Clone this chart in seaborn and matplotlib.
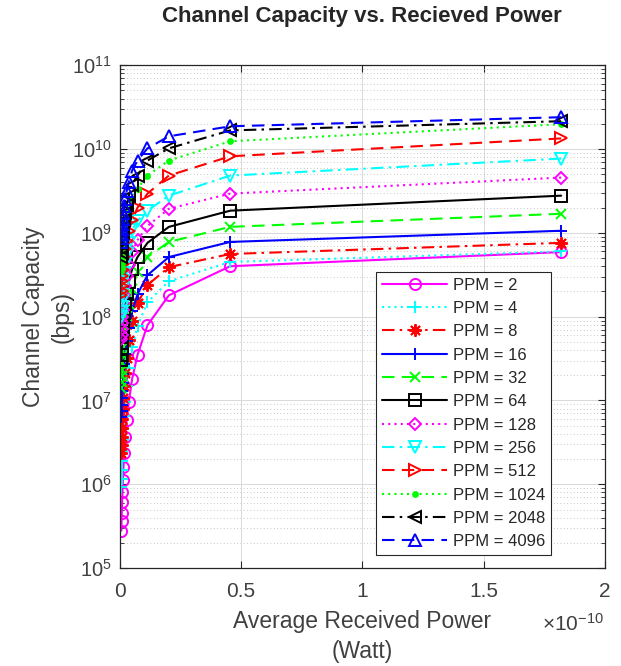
import matplotlib as mpl
mpl.use('Agg')
import matplotlib.pyplot as plt
import pandas as pd
import seaborn as sns
from matplotlib.ticker import FuncFormatter, LogLocator, NullFormatter

# received power (Watt), one value per distance step
power_w = [1.82e-10, 0.455e-10, 0.2022e-10, 0.1138e-10, 0.0728e-10, 0.0506e-10,
           0.0371e-10, 0.0284e-10, 0.0225e-10, 0.0182e-10, 0.0150e-10, 0.0126e-10,
           0.0108e-10, 0.0093e-10, 0.0081e-10, 0.0071e-10, 0.0063e-10]

ppm_orders = [2, 4, 8, 16, 32, 64, 128, 256, 512, 1024, 2048, 4096]

# channel capacity (bps) per PPM order
cap_ppm2 = [5.9e8, 4.0e8, 1.8e8, 7.9e7, 3.5e7, 1.8e7, 9.6e6, 5.8e6, 3.7e6,
            2.35e6, 1.6e6, 1.11e6, 8.2e5, 6.1e5, 4.6e5, 3.6e5, 2.8e5]
cap_ppm4 = [6.0e8, 4.5e8, 2.65e8, 1.49e8, 7.7e7, 4.3e7, 2.47e7, 1.5e7, 9.6e6,
            6.5e6, 4.6e6, 3.4e6, 2.5e6, 1.9e6, 1.47e6, 1.15e6, 9.2e5]
cap_ppm8 = [7.6e8, 5.6e8, 3.9e8, 2.38e8, 1.45e8, 8.8e7, 5.2e7, 3.25e7, 2.15e7,
            1.5e7, 1.08e7, 7.9e6, 6.0e6, 4.7e6, 3.66e6, 2.94e6, 2.36e6]
cap_ppm16 = [1.06e9, 7.8e8, 5.15e8, 3.13e8, 1.85e8, 1.16e8, 7.4e7, 5.06e7, 3.63e7,
             2.75e7, 2.09e7, 1.63e7, 1.31e7, 1.08e7, 8.9e6, 7.5e6, 6.4e6]
cap_ppm32 = [1.69e9, 1.18e9, 7.8e8, 5.15e8, 3.4e8, 2.13e8, 1.41e8, 1.01e8, 7.4e7,
             5.65e7, 4.4e7, 3.53e7, 2.83e7, 2.33e7, 1.98e7, 1.67e7, 1.42e7]
cap_ppm64 = [2.78e9, 1.84e9, 1.18e9, 7.6e8, 5.15e8, 3.7e8, 2.58e8, 1.85e8, 1.41e8,
             1.10e8, 8.8e7, 7.05e7, 5.8e7, 4.8e7, 4.06e7, 3.53e7, 3.08e7]
cap_ppm128 = [4.57e9, 2.94e9, 1.94e9, 1.21e9, 8.2e8, 5.9e8, 4.13e8, 3.05e8, 2.31e8,
              1.8e8, 1.45e8, 1.19e8, 9.8e7, 8.3e7, 7.05e7, 6.1e7, 5.35e7]
cap_ppm256 = [7.7e9, 4.83e9, 2.78e9, 1.84e9, 1.39e9, 1.09e9, 7.6e8, 5.6e8, 4.25e8,
              3.3e8, 2.65e8, 2.19e8, 1.8e8, 1.53e8, 1.29e8, 1.13e8, 9.8e7]
cap_ppm512 = [1.34e10, 8.2e9, 4.83e9, 2.94e9, 2.0e9, 1.43e9, 1.06e9, 8.0e8, 6.4e8,
              5.15e8, 4.25e8, 3.6e8, 3.05e8, 2.65e8, 2.31e8, 2.01e8, 1.8e8]
cap_ppm1024 = [1.98e10, 1.24e10, 7.3e9, 4.83e9, 3.37e9, 2.56e9, 1.89e9, 1.47e9,
               1.18e9, 9.7e8, 8.0e8, 6.8e8, 5.75e8, 5.0e8, 4.37e8, 3.9e8, 3.5e8]
cap_ppm2048 = [2.15e10, 1.67e10, 1.02e10, 7.3e9, 4.83e9, 3.77e9, 2.78e9, 2.17e9,
               1.74e9, 1.43e9, 1.18e9, 1.0e9, 8.5e8, 7.4e8, 6.4e8, 5.75e8, 5.15e8]
cap_ppm4096 = [2.4e10, 1.87e10, 1.42e10, 1.02e10, 7.3e9, 5.55e9, 4.1e9, 3.19e9,
               2.56e9, 2.11e9, 1.74e9, 1.47e9, 1.28e9, 1.12e9, 9.7e8, 8.7e8, 7.8e8]

capacities = [cap_ppm2, cap_ppm4, cap_ppm8, cap_ppm16, cap_ppm32, cap_ppm64,
              cap_ppm128, cap_ppm256, cap_ppm512, cap_ppm1024, cap_ppm2048,
              cap_ppm4096]

# matlab-like line specs
DASH = (0, (6, 3.5))
DASHDOT = (0, (6, 2.5, 1.2, 2.5))
DOT = (0, (1, 2))
ASTERISK = (8, 2, 0)
line_specs = {
    2: ('#ff00ff', '-', 'o'),
    4: ('#00ffff', DOT, '+'),
    8: ('#ff0000', DASHDOT, ASTERISK),
    16: ('#0000ff', '-', '+'),
    32: ('#00ff00', DASH, 'x'),
    64: ('#000000', '-', 's'),
    128: ('#ff00ff', DOT, 'D'),
    256: ('#00ffff', DASHDOT, 'v'),
    512: ('#ff0000', DASH, '>'),
    1024: ('#00ff00', DOT, '.'),
    2048: ('#000000', DASHDOT, '<'),
    4096: ('#0000ff', DASH, '^'),
}
marker_sizes = {'D': 6.5, '.': 7, 'x': 7.5}

rows = []
for ppm, caps in zip(ppm_orders, capacities):
    for p, c in zip(power_w, caps):
        rows.append({'power': p, 'capacity': c, 'ppm': ppm})
df = pd.DataFrame(rows)

sns.set_style('ticks')
plt.rcParams['font.family'] = ['Liberation Sans', 'DejaVu Sans']
plt.rcParams['mathtext.default'] = 'regular'

fig = plt.figure(figsize=(6.21, 6.66), dpi=100)
ax = fig.add_axes([0.193, 0.147, 0.781, 0.755])

for ppm in ppm_orders:
    color, ls, mk = line_specs[ppm]
    sub = df[df['ppm'] == ppm]
    ms = marker_sizes.get(mk, 8) if isinstance(mk, str) else 9
    sns.lineplot(data=sub, x='power', y='capacity', ax=ax, color=color,
                 linestyle=ls, marker=mk, markersize=ms,
                 markerfacecolor='none' if mk != '.' else color,
                 markeredgecolor=color, markeredgewidth=1.4, linewidth=1.5,
                 label='PPM = {}'.format(ppm), estimator=None, sort=False,
                 errorbar=None)

ax.set_yscale('log')
ax.set_xlim(0, 2e-10)
ax.set_ylim(1e5, 1e11)
ax.xaxis.set_major_formatter(
    FuncFormatter(lambda v, _: '{:g}'.format(round(v / 1e-10, 3))))
ax.set_xticks([0, 0.5e-10, 1e-10, 1.5e-10, 2e-10])
ax.yaxis.set_major_locator(LogLocator(base=10, numticks=20))
ax.yaxis.set_minor_locator(LogLocator(base=10, subs=range(2, 10), numticks=20))
ax.yaxis.set_minor_formatter(NullFormatter())

ax.grid(True, which='major', color='0.85', linewidth=0.7)
ax.grid(True, which='minor', axis='y', color='0.72', linestyle=(0, (1, 3)),
        linewidth=0.6)
ax.set_axisbelow(True)

for sp in ax.spines.values():
    sp.set_visible(True)
    sp.set_color('0.15')
    sp.set_linewidth(0.9)
ax.tick_params(which='both', direction='in', top=True, right=True,
               colors='0.15', labelcolor='0.25')
ax.tick_params(axis='x', labelsize=15, pad=10)
ax.tick_params(axis='y', labelsize=14.5, pad=6)
ax.tick_params(which='major', length=5)
ax.tick_params(which='minor', length=3)

ax.set_xlabel('Average Received Power\n(Watt)', fontsize=16.5, color='0.25',
              linespacing=1.35)
ax.xaxis.set_label_coords(0.5, -0.084)
ax.set_ylabel('Channel Capacity\n(bps)', fontsize=16.5, color='0.25',
              linespacing=1.3)
ax.yaxis.set_label_coords(-0.095, 0.5)
ax.set_title('Channel Capacity vs. Recieved Power', fontsize=16,
             fontweight='bold', pad=31)
fig.text(0.972, 1 - 624 / 666, r'$\times$10$^{-10}$', ha='right', va='center',
         fontsize=15, color='0.25')

leg = ax.legend(loc='lower right', bbox_to_anchor=(0.889, 0.026), fontsize=12,
                frameon=True, fancybox=False, framealpha=1, edgecolor='0.15',
                handlelength=3.9, labelspacing=0.5, borderpad=0.35,
                handletextpad=0.35, borderaxespad=0, numpoints=1)
leg.get_frame().set_linewidth(0.8)

fig.savefig('out.png', dpi=100)
